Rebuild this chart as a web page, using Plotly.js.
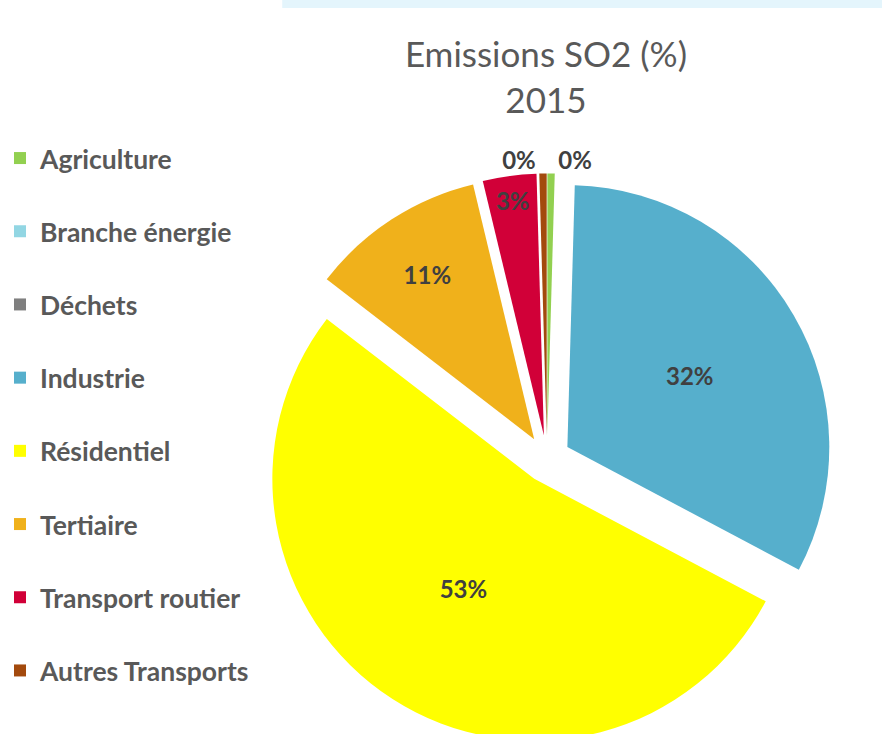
<!DOCTYPE html>
<html>
<head>
<meta charset="utf-8">
<script src="https://cdn.plot.ly/plotly-3.0.1.min.js"></script>
<style>
html, body { margin: 0; padding: 0; overflow: hidden; background: #fff; }
#chart { width: 882px; height: 750px; }
</style>
</head>
<body>
<div id="chart"></div>
<script>
// Data
const categories = ["Agriculture", "Branche énergie", "Déchets", "Industrie", "Résidentiel", "Tertiaire", "Transport routier", "Autres Transports"];
const sharePct = [0.45, 0, 0, 32.3, 52.7, 10.8, 3.3, 0.45];
const sliceColors = ["#92D050", "#92D6E3", "#7F7F7F", "#56AFCC", "#FFFF00", "#F0B11B", "#D10038", "#A34A0D"];
const labelPositions = ["outside", "none", "none", "inside", "inside", "inside", "inside", "outside"];

const legendLabels = categories.map(c => '<span style="font-size:26.5px">' + c + '</span><br> ');

const trace = {
  type: "pie",
  labels: legendLabels,
  values: sharePct,
  sort: false,
  direction: "clockwise",
  rotation: 0,
  pull: 0.09,
  marker: { colors: sliceColors, line: { width: 0 } },
  texttemplate: "%{percent:.0%}",
  textposition: labelPositions,
  insidetextorientation: "horizontal",
  textfont: { family: "Lato, sans-serif", size: 24, color: "#404040", weight: "bold" },
  hoverinfo: "label+percent",
  domain: { x: [0.2965, 0.9439], y: [0.0074, 0.7687] },
  showlegend: true
};

const layout = {
  width: 882,
  height: 750,
  margin: { l: 0, r: 0, t: 0, b: 0 },
  paper_bgcolor: "#ffffff",
  uniformtext: { mode: "show", minsize: 24 },
  title: {
    text: "Emissions SO2 (%)<br>2015",
    font: { family: "Lato, sans-serif", size: 35, color: "#595959" },
    x: 0.619, xanchor: "center",
    xref: "paper",
    y: 1 - 67 / 750, yanchor: "top", yref: "container"
  },
  legend: {
    x: 0, xanchor: "left",
    y: 1 - 134 / 750, yanchor: "top",
    font: { family: "Lato, sans-serif", size: 27, color: "#595959", weight: "bold" },
    valign: "top",
    traceorder: "normal"
  },
  shapes: [{
    type: "rect", xref: "paper", yref: "paper",
    x0: 0.32, x1: 1, y0: 1 - 8 / 750, y1: 1,
    fillcolor: "rgba(210,238,250,0.6)", line: { width: 0 }, layer: "below"
  }]
};

Plotly.newPlot("chart", [trace], layout, { displayModeBar: false, staticPlot: true });
</script>
</body>
</html>
